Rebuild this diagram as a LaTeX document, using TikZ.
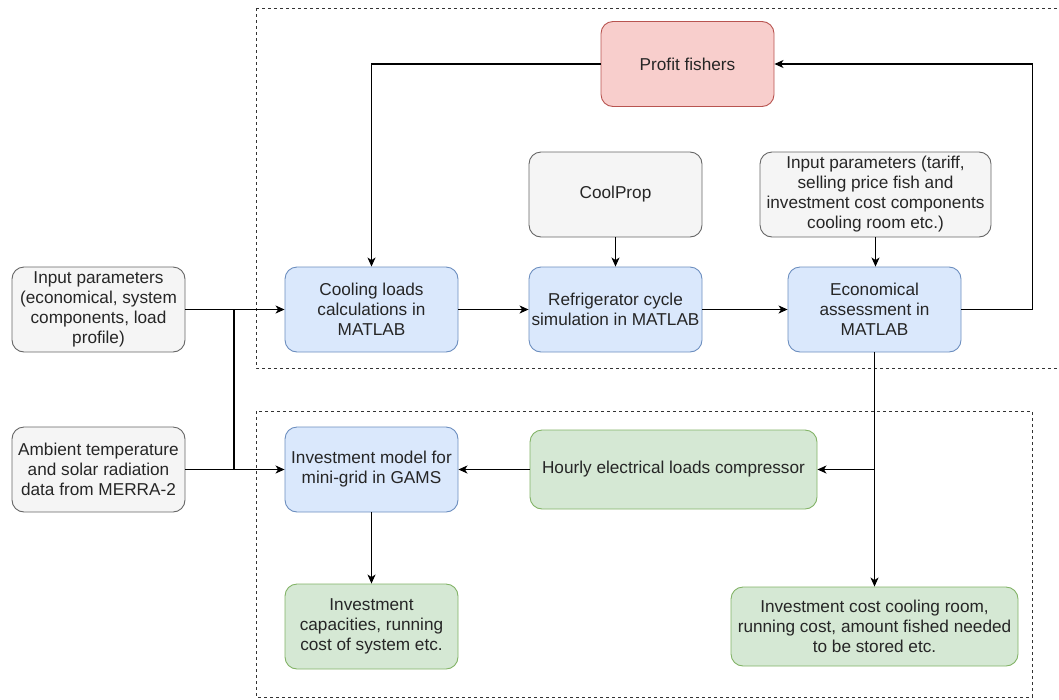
\documentclass[tikz,border=0pt]{standalone}
\usepackage{fontspec}
\setmainfont{Liberation Sans}
\usetikzlibrary{arrows.meta}
\definecolor{blueF}{HTML}{DAE8FC}\definecolor{blueD}{HTML}{6C8EBF}
\definecolor{greenF}{HTML}{D5E8D4}\definecolor{greenD}{HTML}{82B366}
\definecolor{redF}{HTML}{F8CECC}\definecolor{redD}{HTML}{B85450}
\definecolor{grayF}{HTML}{F5F5F5}\definecolor{grayD}{HTML}{666666}
\tikzset{
  box/.style={rectangle, rounded corners=12pt, line width=0.9pt, inner sep=0pt, align=center,
    minimum width=173pt, minimum height=85pt, text=black!85,
    font=\fontsize{17.2pt}{20pt}\selectfont},
  bluebox/.style={box, fill=blueF, draw=blueD},
  greenbox/.style={box, fill=greenF, draw=greenD},
  redbox/.style={box, fill=redF, draw=redD},
  graybox/.style={box, fill=grayF, draw=grayD},
  conn/.style={line width=1.2pt, -{Stealth[length=9pt,width=8pt,inset=2.5pt]}},
  plain/.style={line width=1.2pt},
  group/.style={dashed, dash pattern=on 3pt off 3pt, line width=0.9pt, black!80}
}
\begin{document}
\begin{tikzpicture}[x=1pt,y=-1pt]
\useasboundingbox (0,0) rectangle (1059,699);
% groups
\draw[group] (256,8) -- (1065,8);
\draw[group] (256,8) -- (256,368) -- (1065,368);
\draw[group] (256,411) rectangle (1032,697);
% nodes
\node[redbox] (pf) at (687.5,64) {Profit fishers};
\node[graybox] (cp) at (615.5,194.5) {CoolProp};
\node[graybox, minimum width=231pt] (ip2) at (875.5,194.5) {Input parameters (tariff,\\selling price fish and\\investment cost components\\cooling room etc.)};
\node[bluebox] (cl) at (371.5,309.5) {Cooling loads\\calculations in\\MATLAB};
\node[bluebox] (rc) at (615.5,309.5) {Refrigerator cycle\\simulation in MATLAB};
\node[bluebox] (ea) at (874.5,309.5) {Economical\\assessment in\\MATLAB};
\node[graybox] (ip1) at (98.5,309.5) {Input parameters\\(economical, system\\components, load\\profile)};
\node[graybox] (amb) at (98.5,469.5) {Ambient temperature\\and solar radiation\\data from MERRA-2};
\node[bluebox] (im) at (371.5,469.5) {Investment model for\\mini-grid in GAMS};
\node[greenbox, minimum width=287pt, minimum height=79pt] (hl) at (673.5,469.5) {Hourly electrical loads compressor};
\node[greenbox] (ic) at (371.5,626.5) {Investment\\capacities, running\\cost of system etc.};
\node[greenbox, minimum width=287pt, minimum height=79pt] (icr) at (874.5,626.5) {Investment cost cooling room,\\running cost, amount fished needed\\to be stored etc.};
% junction coordinates
\coordinate (j1) at (234,309.5);
\coordinate (j2) at (234,469.5);
\coordinate (eaR) at (1032.5,309.5);
\coordinate (eaT) at (1032.5,64);
\coordinate (pfL) at (371.5,64);
\coordinate (ej) at (874.5,469.5);
% connectors
\draw[conn] (ip1.east) -- (cl.west);
\draw[conn] (amb.east) -- (im.west);
\draw[plain] (j1) -- (j2);
\draw[conn] (cl.east) -- (rc.west);
\draw[conn] (rc.east) -- (ea.west);
\draw[conn] (cp.south) -- (rc.north);
\draw[conn] (ip2.south) -- (ip2.south |- ea.north);
\draw[conn] (ea.east) -- (eaR) -- (eaT) -- (pf.east);
\draw[conn] (pf.west) -- (pfL) -- (cl.north);
\draw[conn] (ea.south) -- (ej) -- (hl.east);
\draw[conn] (ej) -- (icr.north);
\draw[conn] (hl.west) -- (im.east);
\draw[conn] (im.south) -- (ic.north);
\end{tikzpicture}
\end{document}
